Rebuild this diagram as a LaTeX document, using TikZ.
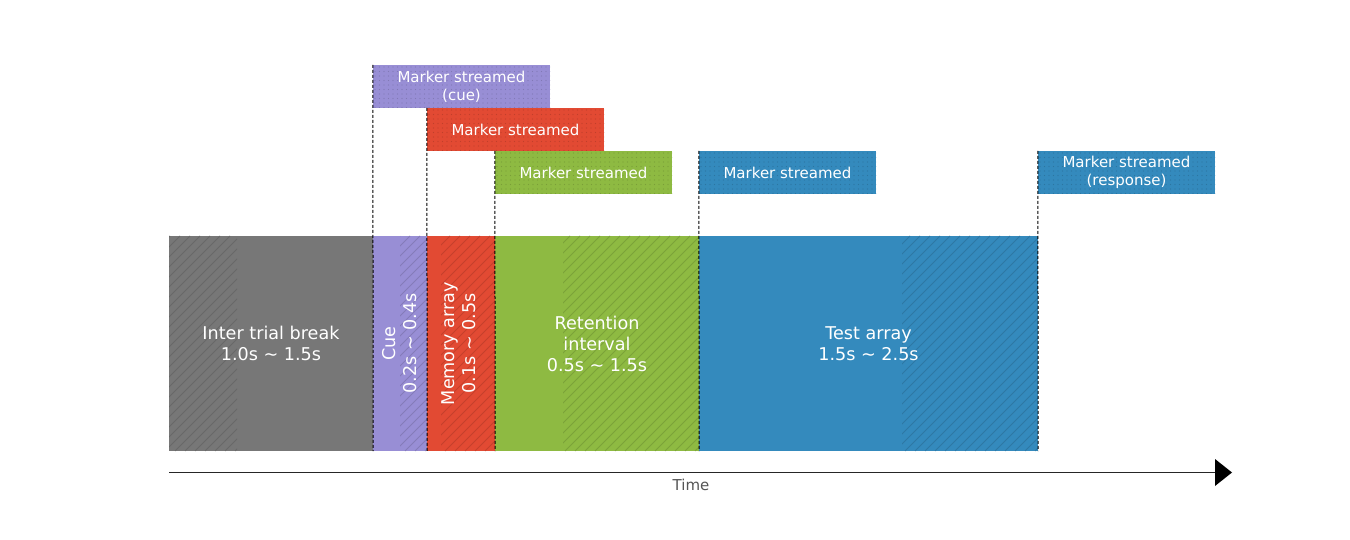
\documentclass[tikz,border=0pt]{standalone}
\usepackage{fontspec}
\setmainfont{DejaVu Sans}
\definecolor{cgray}{HTML}{777777}
\definecolor{cpurple}{HTML}{988ED5}
\definecolor{cred}{HTML}{E24A33}
\definecolor{cgreen}{HTML}{8EBA42}
\definecolor{cblue}{HTML}{348ABD}
\definecolor{ctime}{HTML}{555555}
\newcommand\myhatch[3]{%
  \begin{scope}
    \clip (#1,236) rectangle (#2,451);
    \foreach \i in {0,...,140}{%
      \draw[#3!87!black, line width=0.8pt] ({10*\i-215},451) -- ({10*\i},236);
    }
  \end{scope}}
\newcommand\mydots[3]{%
  \begin{scope}
    \clip (#1,#2) rectangle ({#1+177},{#2+43});
    \foreach \i in {0,...,39}{%
      \foreach \j in {0,...,9}{%
        \fill[#3!85!black] ({#1+2+4.5*\i},{#2+2+4.5*\j}) circle (0.65pt);
      }
    }
  \end{scope}}
\begin{document}
\begin{tikzpicture}[x=1pt,y=-1pt,
  bar/.style={draw=none, inner sep=0pt, minimum height=215pt},
  barlabel/.style={text=white, font=\fontsize{17.6}{21}\selectfont, align=center, inner sep=0pt},
  marker/.style={inner sep=0pt, minimum width=177pt, minimum height=43pt, text=white,
    font=\fontsize{15}{18}\selectfont, align=center},
  guide/.style={black, dash pattern=on 3pt off 2pt, line width=1pt}]
\useasboundingbox[fill=white] (0,0) rectangle (1350,540);

% bars
\node[bar, fill=cgray,   minimum width=204pt] (itb) at (271,343.5) {};
\node[bar, fill=cpurple, minimum width=54pt]  (cue) at (400,343.5) {};
\node[bar, fill=cred,    minimum width=68pt]  (mem) at (461,343.5) {};
\node[bar, fill=cgreen,  minimum width=204pt] (ret) at (597,343.5) {};
\node[bar, fill=cblue,   minimum width=339pt] (tst) at (868.5,343.5) {};

% hatched (variable) parts
\myhatch{169}{237}{cgray}
\myhatch{400}{427}{cpurple}
\myhatch{441}{495}{cred}
\myhatch{563}{699}{cgreen}
\myhatch{902}{1038}{cblue}

% bar labels
\node[barlabel] (itbl) at (itb.center) {Inter trial break\\1.0s \textasciitilde{} 1.5s};
\node[barlabel, rotate=90] (cuel) at (399.5,343.5) {Cue\\0.2s \textasciitilde{} 0.4s};
\node[barlabel, rotate=90] (meml) at (459,343.5) {Memory array\\0.1s \textasciitilde{} 0.5s};
\node[barlabel] (retl) at (ret.center) {Retention\\interval\\0.5s \textasciitilde{} 1.5s};
\node[barlabel] (tstl) at (tst.center) {Test array\\1.5s \textasciitilde{} 2.5s};

% markers
\node[marker, fill=cpurple] (m1) at (461.5,86.5) {};
\node[marker, fill=cred]    (m2) at (515.5,129.5) {};
\node[marker, fill=cgreen]  (m3) at (583.5,172.5) {};
\node[marker, fill=cblue]   (m4) at (787.5,172.5) {};
\node[marker, fill=cblue]   (m5) at (1126.5,172.5) {};
\mydots{373}{65}{cpurple}
\mydots{427}{108}{cred}
\mydots{495}{151}{cgreen}
\mydots{699}{151}{cblue}
\mydots{1038}{151}{cblue}
\node[marker] (m1t) at (m1.center) {Marker streamed\\(cue)};
\node[marker] (m2t) at (m2.center) {Marker streamed};
\node[marker] (m3t) at (m3.center) {Marker streamed};
\node[marker] (m4t) at (m4.center) {Marker streamed};
\node[marker] (m5t) at (m5.center) {Marker streamed\\(response)};

% guide lines
\draw[guide] (m1.north west) -- (itb.south east);
\draw[guide] (m2.north west) -- (cue.south east);
\draw[guide] (m3.north west) -- (mem.south east);
\draw[guide] (m4.north west) -- (ret.south east);
\draw[guide] (m5.north west) -- (tst.south east);

% time axis
\coordinate (t0) at (169,472);
\coordinate (t1) at (1215,472);
\draw[black!85, line width=0.8pt] (t0) -- (t1);
\fill[black] (1215,459) -- (1232,472.5) -- (1215,486) -- cycle;
\node[text=ctime, font=\fontsize{15}{18}\selectfont] (time) at (691,485) {Time};
\end{tikzpicture}
\end{document}
